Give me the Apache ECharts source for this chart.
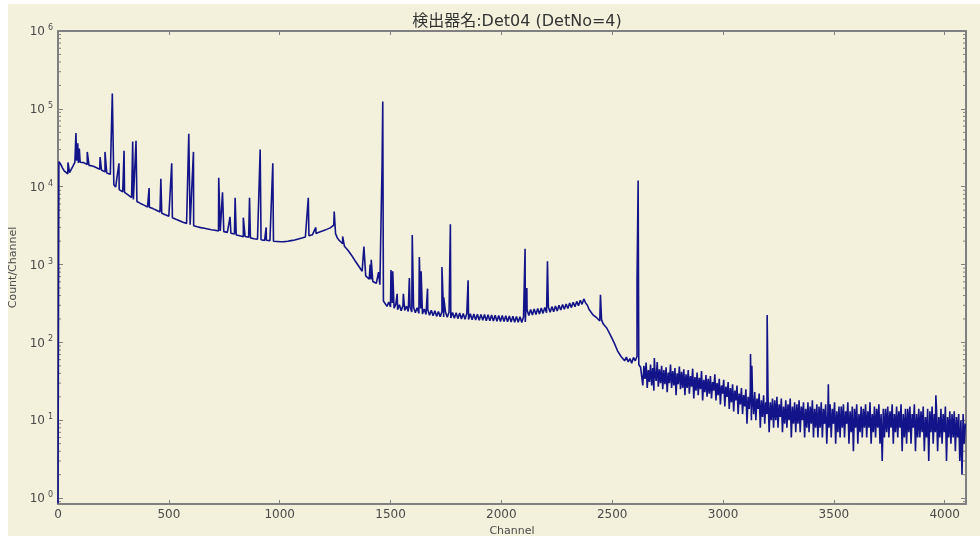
<!DOCTYPE html>
<html><head><meta charset="utf-8">
<script src="https://cdn.jsdelivr.net/npm/echarts/dist/echarts.min.js"></script>
<style>
html,body{margin:0;padding:0;background:#ffffff;width:980px;height:536px;overflow:hidden}
#c{position:absolute;left:8px;top:4px;width:972px;height:532px;background:#f3f1dc}
</style>
</head><body><div id="c"></div>
<script>
const titleText = '検出器名:Det04 (DetNo=4)';
const xName = 'Channel';
const yName = 'Count/Channel';
const xMin = 0, xMax = 4096, xInterval = 500;
const yMin = 0.84, yMax = 1e6;

// lowest channels
const edgeChannels = [0, 2];
const edgeCounts = [0.85, 0.85];

// continuum, channels 4..2628 every 8 channels
const contStart = 4, contStep = 8;
const contCounts = [
 21000,19500,17500,16000,15200,14600,15200,16000,18500,20500,
 21500,20200,20600,20000,20400,19500,19300,18800,19000,18400,
 18300,17600,17400,16700,16400,15700,15500,15000,14900,14400,
 14200,10600,9900,9700,9200,9050,8600,8450,8000,7850,
 7450,7250,6850,6750,6450,6350,6100,6050,5800,5750,
 5500,5450,5250,5230,5000,4980,4800,4730,4560,4530,
 4350,4340,4180,4150,3980,3960,3810,3790,3650,3620,
 3490,3470,3370,3360,3250,3250,3150,3150,3060,3050,
 2980,2980,2920,2920,2860,2860,2800,2810,2760,2760,
 2700,2700,2640,2650,2580,2590,2520,2530,2460,2470,
 2400,2410,2340,2350,2280,2290,2240,2240,2200,2200,
 2150,2160,2110,2130,2080,2090,2040,2050,2000,2020,
 1980,1990,1960,1980,1940,1960,1940,1970,1960,1990,
 1990,2030,2030,2070,2080,2130,2140,2190,2200,2260,
 2280,2340,2360,2420,2440,2510,2540,2610,2640,2710,
 2750,2830,2870,2960,3010,3200,2500,2200,2050,1950,
 1850,1720,1660,1530,1470,1320,1270,1120,1080,960,
 910,820,790,715,700,650,645,605,610,575,
 570,550,555,340,330,290,330,285,322,275,
 310,262,305,255,298,258,292,250,288,245,
 282,240,278,236,272,232,268,228,262,224,
 258,220,255,216,250,214,248,212,245,210,
 244,206,242,204,240,202,238,200,236,198,
 235,197,233,195,232,194,230,193,229,192,
 228,190,226,189,225,188,224,187,222,186,
 221,185,220,184,218,183,217,182,215,181,
 214,180,212,183,260,222,265,225,268,228,
 272,232,276,236,280,240,284,244,288,248,
 294,254,300,260,306,266,312,272,320,280,
 328,288,336,296,348,308,362,322,300,265,
 250,228,232,210,212,188,195,172,178,152,
 150,124,125,100,98,78,80,66,70,58,
 65,56,62,54,64,58,66,52,48
];

// noisy high-channel region, channels 2633..4093 every 5 channels
const noiseStart = 2633, noiseStep = 5;
const noiseCounts = [
 46,28,50,34,55,26,44,31,52,28,47,24,42,32,56,27,45,30,50,25,
 44,29,48,23,41,30,52,26,43,28,47,21,40,29,49,25,42,26,45,21,
 39,26,44,22,37,27,46,19,36,24,41,21,35,25,43,18,33,23,38,20,
 34,22,37,19,31,24,39,18,30,21,34,16,28,22,33,15,27,20,31,14,
 26,17,29,13,24,18,28,12,22,16,26,12,21,15,25,9,20,14,24,10,
 21,12,23,10,19,14,22,8,18,11,21,9,17,12,20,7,17,10,19,8,
 18,10,20,8,16,11,19,7,15,9,18,8,16,10,19,6,15,9,17,7,
 16,9,18,7,15,10,17,6,14,8,17,7,15,9,18,6,14,8,16,6,
 15,8,17,6,14,9,16,5,13,8,16,6,14,9,17,5,13,7,15,6,
 15,8,16,6,13,9,17,5,13,7,15,4,14,8,16,5,12,7,15,6,
 14,8,16,6,13,8,17,5,12,7,15,6,14,8,16,5,12,3,14,6,
 14,7,15,6,13,8,16,5,12,7,15,6,13,8,16,4,12,6,14,5,
 14,7,15,5,12,8,16,4,12,6,14,6,13,7,15,4,11,6,14,3,
 13,7,15,5,12,7,14,4,11,6,14,5,12,7,15,3,11,6,13,5,
 12,6,13,4,11,6,12,3,10,2,12,5,9
];

// photopeaks
const peakChannels = [45,81,89,96,132,190,212,245,275,298,337,352,411,464,513,590,611,
 725,742,776,799,836,864,912,939,969,1129,1163,1246,1284,1380,1408,1413,1446,1462,1465,
 1502,1510,1530,1558,1585,1598,1630,1638,1667,1732,1740,1770,1850,2107,2115,2208,2447,
 2612,2617,2690,3124,3130,3199,3475,3960];
const peakCounts = [20500,49000,36000,31000,28000,24000,28000,157000,20000,29000,38000,39000,9600,12600,20000,48000,28000,
 13000,8500,4100,7200,4000,7200,30000,3000,20000,7200,3000,4800,2300,1700,1000,1150,800,20000,124000,
 850,820,420,420,670,2400,1250,820,490,930,380,3300,630,1600,500,1100,410,
 600,12000,63,71,50,225,29,21];

// minor tick decoration values
const minorMultipliers = [2,3,4,5,6,7,8,9];
const minorDecades = [-1,0,1,2,3,4,5];

const pts = [];
edgeChannels.forEach((c,i)=>pts.push([c, edgeCounts[i]]));
contCounts.forEach((v,i)=>pts.push([contStart + i*contStep, v]));
noiseCounts.forEach((v,i)=>pts.push([noiseStart + i*noiseStep, v]));
peakChannels.forEach((c,i)=>pts.push([c, peakCounts[i], 1]));
pts.sort((a,b)=>a[0]-b[0] || ((a[2]||0)-(b[2]||0)));
const seriesData = pts.map(p=>[p[0], p[1]]);

const minorVals = [];
minorDecades.forEach(d=>minorMultipliers.forEach(m=>{const v=m*Math.pow(10,d); if(v>=yMin && v<=yMax) minorVals.push([xMin, v]);}));

const axisColor = '#808080';
const labelColor = '#4a4a4a';
const fontFam = 'DejaVu Sans, Liberation Sans, sans-serif';

const chart = echarts.init(document.getElementById('c'), null, {renderer:'canvas'});
chart.setOption({
  animation: false,
  backgroundColor: 'transparent',
  title: {
    text: titleText, left: 504, top: 5, textAlign: 'center',
    textStyle: {fontSize: 16, fontWeight: 'normal', color: '#333', fontFamily: 'DejaVu Sans, Noto Sans CJK JP, sans-serif'}
  },
  grid: {left: 50, right: 14, top: 27, bottom: 32, containLabel: false, outerBoundsMode: 'none'},
  xAxis: [{
    type: 'value', min: xMin, max: xMax, interval: xInterval, position: 'bottom',
    name: xName, nameLocation: 'middle', nameGap: 17,
    nameTextStyle: {fontSize: 11, color: labelColor, fontFamily: fontFam},
    axisLine: {show: true, onZero: false, lineStyle: {color: axisColor, width: 2}},
    axisTick: {show: true, inside: true, length: 4, lineStyle: {color: axisColor}},
    axisLabel: {show: true, margin: 5, fontSize: 12, color: labelColor, fontFamily: fontFam, showMaxLabel: false,
      formatter: function(v){ return String(v); }},
    splitLine: {show: false}
  },{
    type: 'value', min: xMin, max: xMax, interval: xInterval, position: 'top',
    axisLine: {show: true, onZero: false, lineStyle: {color: axisColor, width: 2}},
    axisTick: {show: true, inside: true, length: 4, lineStyle: {color: axisColor}},
    axisLabel: {show: false}, splitLine: {show: false}
  }],
  yAxis: [{
    type: 'log', logBase: 10, min: yMin, max: yMax, position: 'left',
    name: yName, nameLocation: 'middle', nameGap: 36,
    nameTextStyle: {fontSize: 11, color: labelColor, fontFamily: fontFam},
    axisLine: {show: true, onZero: false, lineStyle: {color: axisColor, width: 2}},
    axisTick: {show: true, inside: true, length: 5, lineStyle: {color: axisColor}},
    axisLabel: {
      show: true, margin: 5, showMinLabel: true,
      formatter: function(v){ const e = Math.log10(v); const r = Math.round(e); if (Math.abs(e-r) > 1e-6) return ''; return '{a|10}{b|' + r + '}'; },
      rich: {
        a: {fontSize: 12, color: labelColor, fontFamily: fontFam, verticalAlign: 'bottom', lineHeight: 14},
        b: {fontSize: 8, color: labelColor, fontFamily: fontFam, verticalAlign: 'top', lineHeight: 14, padding: [0,0,0,3]}
      }
    },
    splitLine: {show: false}
  },{
    type: 'log', logBase: 10, min: yMin, max: yMax, position: 'right',
    axisLine: {show: true, onZero: false, lineStyle: {color: axisColor, width: 2}},
    axisTick: {show: true, inside: true, length: 5, lineStyle: {color: axisColor}},
    axisLabel: {show: false}, splitLine: {show: false}
  }],
  series: [{
    type: 'line', xAxisIndex: 0, yAxisIndex: 0, data: seriesData,
    showSymbol: false, symbol: 'none', sampling: false,
    lineStyle: {color: '#14148a', width: 1.6}, z: 3
  },{
    type: 'custom', xAxisIndex: 0, yAxisIndex: 0, data: minorVals, silent: true, z: 2,
    renderItem: function(params, api){
      const v = api.value(1);
      const l = api.coord([xMin, v]);
      const r = api.coord([xMax, v]);
      const st = {stroke: axisColor, lineWidth: 1};
      return {type: 'group', children: [
        {type: 'line', shape: {x1: l[0], y1: l[1], x2: l[0]+3, y2: l[1]}, style: st},
        {type: 'line', shape: {x1: r[0]-3, y1: r[1], x2: r[0], y2: r[1]}, style: st}
      ]};
    }
  }]
});
</script>
</body></html>
